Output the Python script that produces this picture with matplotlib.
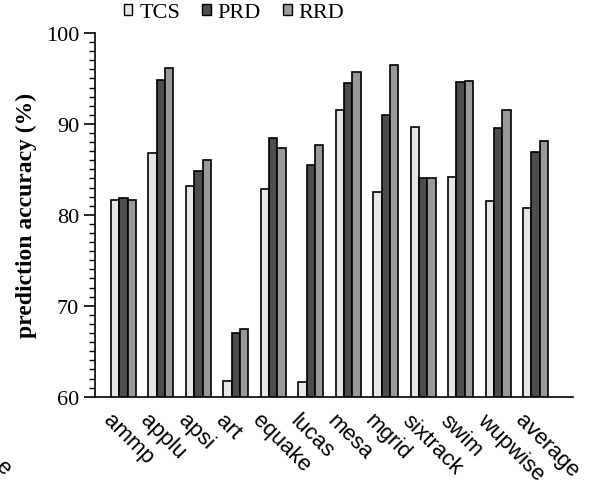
import matplotlib
matplotlib.use("Agg")
import matplotlib.pyplot as plt
import matplotlib.transforms as mtransforms
from matplotlib.ticker import MultipleLocator
from matplotlib.patches import Patch
import numpy as np

benchmarks = ['ammp', 'applu', 'apsi', 'art', 'equake', 'lucas', 'mesa',
              'mgrid', 'sixtrack', 'swim', 'wupwise', 'average']
tcs = [81.6, 86.8, 83.2, 61.7, 82.8, 61.6, 91.5, 82.5, 89.7, 84.2, 81.5, 80.7]
prd = [81.9, 94.8, 84.8, 67.0, 88.5, 85.5, 94.5, 91.0, 84.1, 94.6, 89.5, 86.9]
rrd = [81.6, 96.1, 86.0, 67.5, 87.4, 87.7, 95.7, 96.5, 84.1, 94.7, 91.5, 88.1]
series_names = ['TCS', 'PRD', 'RRD']
colors = ['#e6e6e6', '#4d4d4d', '#999999']

serif = ['Liberation Serif', 'DejaVu Serif']
sans = ['Liberation Sans', 'DejaVu Sans']

fig = plt.figure(figsize=(5.98, 4.85), dpi=100)
ax = fig.add_axes([95/598, 1-397.7/485, 478/598, (397.7-34)/485])

x = np.arange(len(benchmarks))
w = 0.222
for i, (vals, c) in enumerate(zip([tcs, prd, rrd], colors)):
    ax.bar(x + (i-1)*w, np.array(vals) - 60, w, bottom=60, color=c,
           edgecolor='black', linewidth=1.2, zorder=3)

ax.set_ylim(60, 100)
ax.set_xlim(-0.76, 12.0)
ax.yaxis.set_major_locator(MultipleLocator(10))
ax.yaxis.set_minor_locator(MultipleLocator(1))
ax.spines['top'].set_visible(False)
ax.spines['right'].set_visible(False)
ax.spines['left'].set_linewidth(1.2)
ax.spines['bottom'].set_linewidth(1.2)
ax.tick_params(axis='y', which='major', length=8, width=1.2, direction='out')
ax.tick_params(axis='y', which='minor', length=4, width=1, direction='out')
ax.tick_params(axis='x', length=0, pad=9)
for lab in ax.get_yticklabels():
    lab.set_family(serif)
    lab.set_fontsize(16)

ax.set_xticks(x)
ax.set_xticklabels(benchmarks, rotation=-45, ha='left', va='top',
                   rotation_mode='anchor', fontsize=16, family=sans)
offset = mtransforms.ScaledTranslation(-10/100, 0, fig.dpi_scale_trans)
for lab in ax.get_xticklabels():
    lab.set_transform(lab.get_transform() + offset)

ax.set_ylabel('prediction accuracy (%)', fontsize=17, fontweight='bold',
              family=serif)
ax.yaxis.set_label_coords(-0.122, 0.5)

handles = [Patch(facecolor=c, edgecolor='black', linewidth=1.0) for c in colors]
fig.legend(handles, series_names, loc='center', bbox_to_anchor=(234/598, 1-14/485),
           ncol=3, frameon=False, prop={'family': serif, 'size': 16},
           handlelength=0.4, handleheight=0.4, handletextpad=0.3, columnspacing=1.0)

fig.text(-0.014, 1-468/485, 'e', rotation=-45, fontsize=16, family=sans,
         ha='left', va='center')

fig.savefig('out.png', dpi=100)
